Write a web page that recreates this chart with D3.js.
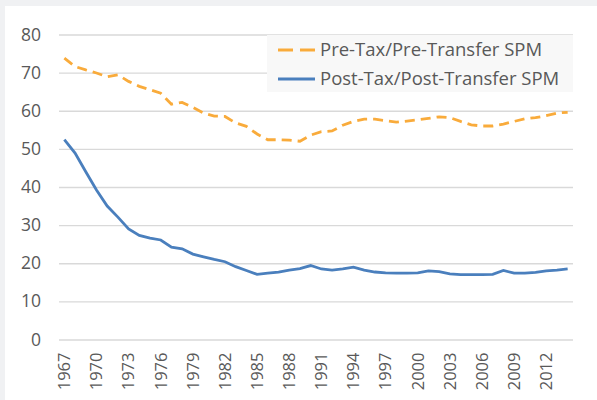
<!DOCTYPE html>
<html>
<head>
<meta charset="utf-8">
<script src="https://cdn.jsdelivr.net/npm/d3@7"></script>
<style>
  body { margin: 0; background: #f0f1f3; }
  text { font-family: "Open Sans", sans-serif; fill: #595959; }
</style>
</head>
<body>
<div id="chart"></div>
<script>
// Data
const years = d3.range(1967, 2015);
const preTax = [73.8, 71.6, 70.7, 69.9, 68.9, 69.4, 67.7, 66.4, 65.5, 64.6,
  61.7, 62.2, 60.9, 59.4, 58.6, 58.5, 56.8, 55.9, 53.9, 52.4,
  52.4, 52.3, 52.0, 53.6, 54.5, 54.7, 56.2, 57.2, 57.8, 57.8,
  57.4, 57.0, 57.3, 57.6, 58.0, 58.4, 58.2, 57.2, 56.3, 56.0,
  56.0, 56.5, 57.2, 57.9, 58.2, 58.7, 59.4, 59.6];
const postTax = [52.4, 48.9, 44.0, 39.2, 35.0, 32.1, 29.0, 27.3, 26.6, 26.1,
  24.2, 23.8, 22.4, 21.7, 21.0, 20.4, 19.1, 18.1, 17.1, 17.4,
  17.7, 18.2, 18.6, 19.4, 18.5, 18.2, 18.5, 19.0, 18.2, 17.7,
  17.5, 17.4, 17.4, 17.5, 18.0, 17.8, 17.2, 17.0, 17.0, 17.0,
  17.1, 18.1, 17.4, 17.4, 17.6, 18.0, 18.2, 18.5];
const yTicks = [0, 10, 20, 30, 40, 50, 60, 70, 80];
const seriesNames = ["Pre-Tax/Pre-Transfer SPM", "Post-Tax/Post-Transfer SPM"];

const svgWidth = 597;
const svgHeight = 400;
const margin = { top: 34.5, right: 24, bottom: 60.5, left: 59 };
const width = svgWidth - margin.left - margin.right;
const height = svgHeight - margin.top - margin.bottom;

const svg = d3.select("#chart")
  .append("svg")
  .attr("width", svgWidth)
  .attr("height", svgHeight)
  .style("display", "block");

// white panel
svg.append("rect")
  .attr("x", 5).attr("y", 6)
  .attr("width", svgWidth - 5).attr("height", svgHeight - 6)
  .attr("fill", "#ffffff");

const chartGroup = svg.append("g")
  .attr("transform", `translate(${margin.left}, ${margin.top})`);

// Scales
const xScale = d3.scaleBand()
  .domain(years)
  .range([0, width]);

const yScale = d3.scaleLinear()
  .domain([0, 80])
  .range([height, 0]);

const xPos = (d, i) => xScale(years[i]) + xScale.bandwidth() / 2;

// Gridlines
chartGroup.append("g")
  .call(d3.axisLeft(yScale).tickValues(yTicks).tickSize(-width).tickFormat(""))
  .call(g => g.select(".domain").remove())
  .selectAll("line")
  .attr("stroke", "#d9d9d9")
  .attr("stroke-width", 1.3);

// Y axis labels
chartGroup.append("g")
  .call(d3.axisLeft(yScale).tickValues(yTicks).tickSize(0).tickPadding(18))
  .call(g => g.select(".domain").remove())
  .selectAll("text")
  .style("font-size", "17.5px")
  .style("font-family", "'Open Sans', sans-serif")
  .attr("fill", "#595959");

// X axis labels (every third year)
chartGroup.append("g")
  .attr("transform", `translate(0, ${height})`)
  .call(d3.axisBottom(xScale)
    .tickValues(years.filter(y => (y - 1967) % 3 === 0))
    .tickSize(0))
  .call(g => g.select(".domain").remove())
  .selectAll("text")
  .style("font-size", "16.5px")
  .style("font-family", "'Open Sans', sans-serif")
  .attr("fill", "#595959")
  .attr("text-anchor", "end")
  .attr("transform", "rotate(-90)")
  .attr("x", -13)
  .attr("y", 0)
  .attr("dy", "0.35em");

// Lines
const line = d3.line()
  .x(xPos)
  .y(d => yScale(d));

chartGroup.append("path")
  .datum(preTax)
  .attr("fill", "none")
  .attr("stroke", "#f9ab3b")
  .attr("stroke-width", 2.8)
  .attr("stroke-dasharray", "10,6")
  .attr("d", line);

chartGroup.append("path")
  .datum(postTax)
  .attr("fill", "none")
  .attr("stroke", "#4a7fbd")
  .attr("stroke-width", 2.8)
  .attr("d", line);

// Legend
const legend = svg.append("g").attr("transform", "translate(267, 35)");
legend.append("rect")
  .attr("width", 306).attr("height", 57)
  .attr("fill", "#f8f8f8");

const legendStyles = [
  { color: "#f9ab3b", dash: "15,7" },
  { color: "#4a7fbd", dash: null }
];

seriesNames.forEach((name, i) => {
  const row = legend.append("g").attr("transform", `translate(0, ${15 + i * 29})`);
  row.append("line")
    .attr("x1", 11).attr("x2", 48)
    .attr("y1", 0).attr("y2", 0)
    .attr("stroke", legendStyles[i].color)
    .attr("stroke-width", 3)
    .attr("stroke-dasharray", legendStyles[i].dash);
  row.append("text")
    .attr("x", 53).attr("y", 0)
    .attr("dy", "0.35em")
    .style("font-size", "18.5px")
    .text(name);
});
</script>
</body>
</html>
